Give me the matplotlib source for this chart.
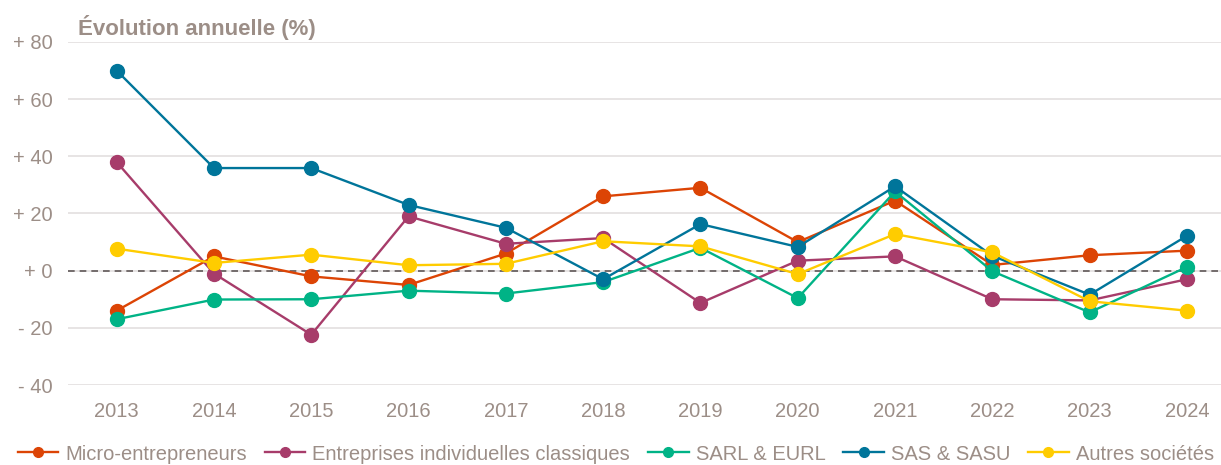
import numpy as np
import matplotlib
matplotlib.use("Agg")
import matplotlib.pyplot as plt

plt.rcParams['font.family'] = ['Liberation Sans', 'DejaVu Sans']

# ---------------------------------------------------------------------------
# data (annual change, %)
# ---------------------------------------------------------------------------

years = [2013, 2014, 2015, 2016, 2017, 2018, 2019, 2020, 2021, 2022, 2023, 2024]

micro = [-14.0, 5.0, -2.0, -5.0, 6.0, 26.0, 29.0, 10.0, 24.5, 2.0, 5.4, 7.0]
ei_classiques = [38.0, -1.0, -22.4, 19.0, 9.4, 11.4, -11.3, 3.5, 5.0, -10.0, -10.4, -3.0]
sarl_eurl = [-17.0, -10.1, -10.0, -7.0, -8.0, -4.0, 8.0, -9.6, 27.7, -0.2, -14.6, 1.3]
sas_sasu = [70.0, 35.9, 35.9, 23.0, 15.0, -3.0, 16.3, 8.3, 29.5, 5.2, -8.4, 12.2]
autres = [7.7, 2.7, 5.6, 1.9, 2.4, 10.3, 8.5, -1.2, 12.8, 6.4, -10.7, -14.0]

labels = ['Micro-entrepreneurs', 'Entreprises individuelles classiques',
          'SARL & EURL', 'SAS & SASU', 'Autres sociétés']
colours = ['#DC4405', '#A73C6A', '#00B386', '#00759A', '#FFCC00']

yticks = [-40, -20, 0, 20, 40, 60, 80]
ytick_labels = ['- 40', '- 20', '+ 0', '+ 20', '+ 40', '+ 60', '+ 80']

text_col = '#9C8E87'

# ---------------------------------------------------------------------------
# plot
# ---------------------------------------------------------------------------

fig = plt.figure(figsize=(12.21, 4.65), dpi=100)
ax = fig.add_axes([68/1221, 80/465, (1221-68)/1221, (385-42)/465])

for vals, lab, col in zip([micro, ei_classiques, sarl_eurl, sas_sasu, autres], labels, colours):
    ax.plot(years, vals, '-o', color=col, lw=1.7, ms=10, label=lab, zorder=3)

ax.axhline(0, color='#605858', lw=1.2, ls=(0, (4, 3)), zorder=2)

ax.set_ylim(-40, 80)
ax.set_xlim(2012.5, 2012.5 + (1221-68)/97.3)
ax.set_yticks(yticks)
ax.set_yticklabels(ytick_labels)
ax.set_xticks(years)
ax.set_xticklabels([str(y) for y in years])
ax.grid(axis='y', color='#E3DFDF', lw=1.2, zorder=0)
ax.set_axisbelow(True)
for s in ax.spines.values():
    s.set_visible(False)
ax.tick_params(length=0, labelsize=14.5, labelcolor=text_col)
ax.tick_params(axis='x', pad=12)
ax.tick_params(axis='y', pad=11)

fig.text(78/1221, 1 - 28/465, 'Évolution annuelle (%)', fontsize=16, fontweight='bold',
         color=text_col, va='center', ha='left')

leg = fig.legend(loc='center left', bbox_to_anchor=(18/1221, 1 - 454/465), ncol=5, frameon=False,
                 fontsize=14.5, handlelength=2.0, handletextpad=0.35, columnspacing=0.9,
                 borderaxespad=0, borderpad=0)
for t in leg.get_texts():
    t.set_color(text_col)
for h in leg.legend_handles:
    h.set_markersize(7)

fig.savefig('out.png', dpi=100)
